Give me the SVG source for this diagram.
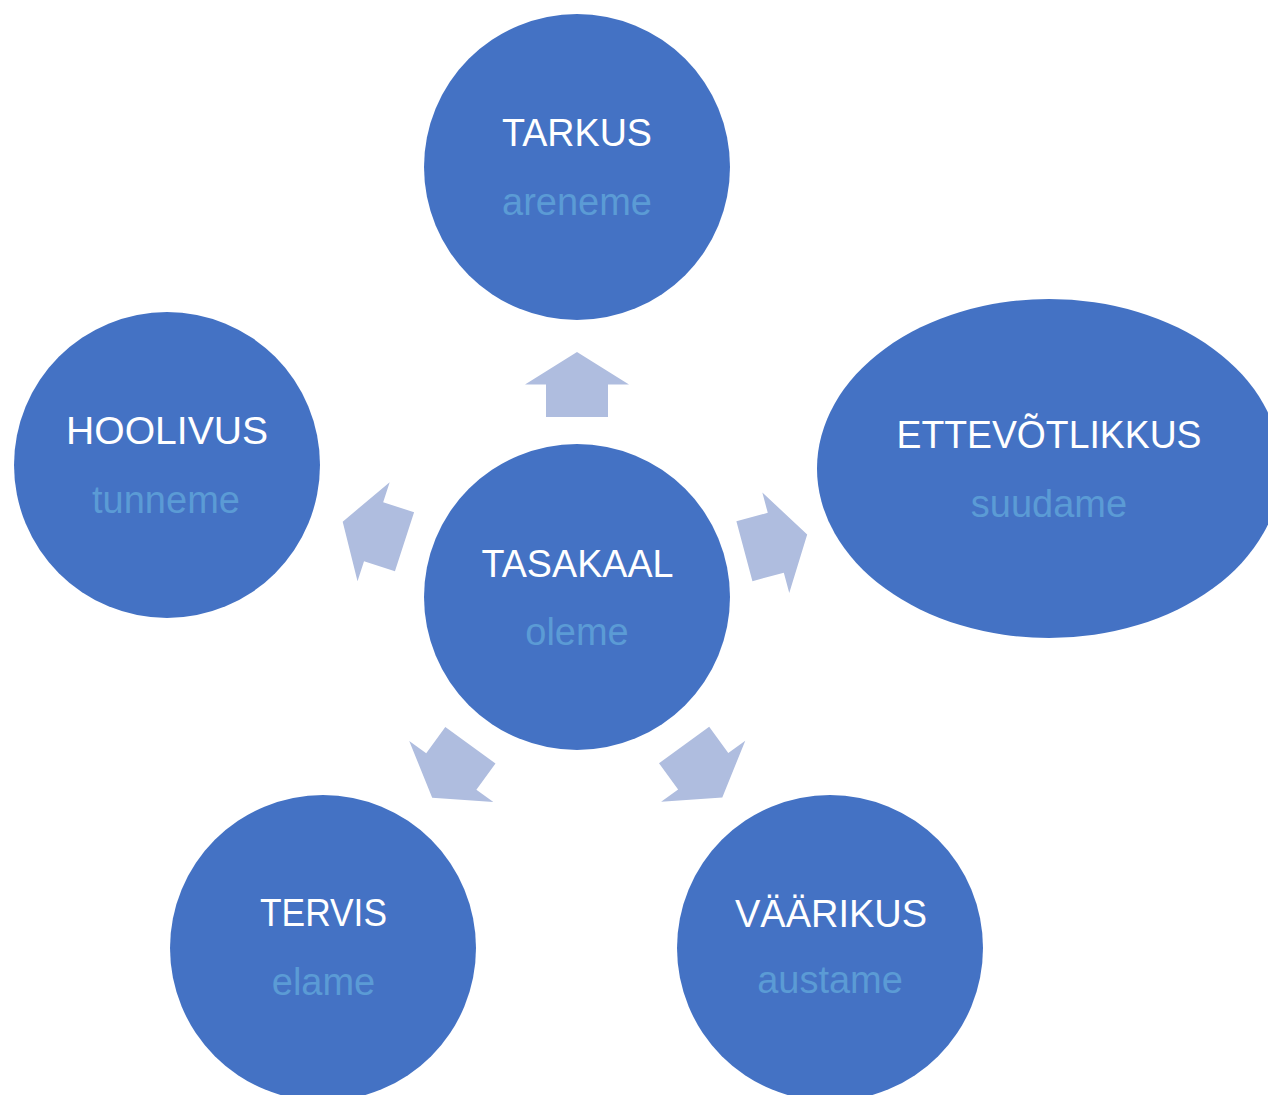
<svg xmlns="http://www.w3.org/2000/svg" width="1268" height="1095" viewBox="0 0 1268 1095">
<defs>
<style>
.node{fill:#4472C4}
.t{font-family:"Liberation Sans",Arial,sans-serif;font-size:38px;fill:#FFFFFF;text-anchor:middle}
.s{font-family:"Liberation Sans",Arial,sans-serif;font-size:38px;fill:#5B9BD5;text-anchor:middle}
.arr{fill:#AFBDDF}
</style>
<polygon id="arrow" points="0,-32.5 52,0 31,0 31,32.5 -31,32.5 -31,0 -52,0"/>
</defs>
<rect width="1268" height="1095" fill="#FFFFFF"/>
<g id="connectors">
<use href="#arrow" class="arr" transform="translate(577,384.5)"/>
<use href="#arrow" class="arr" transform="translate(373.6,531.7) rotate(-72)"/>
<use href="#arrow" class="arr" transform="translate(775.8,542.8) rotate(75)"/>
<use href="#arrow" class="arr" transform="translate(451.3,771.5) rotate(-144)"/>
<use href="#arrow" class="arr" transform="translate(703.2,771.2) rotate(144)"/>
</g>
<g id="tarkus">
<circle class="node" cx="577" cy="167" r="153"/>
<text class="t" x="577" y="146" textLength="150" lengthAdjust="spacingAndGlyphs">TARKUS</text>
<text class="s" x="577" y="215">areneme</text>
</g>
<g id="tasakaal">
<circle class="node" cx="577" cy="597" r="153"/>
<text class="t" x="577.5" y="577" textLength="192" lengthAdjust="spacingAndGlyphs">TASAKAAL</text>
<text class="s" x="577" y="645">oleme</text>
</g>
<g id="hoolivus">
<circle class="node" cx="167" cy="465" r="153"/>
<text class="t" x="167" y="444" textLength="202" lengthAdjust="spacingAndGlyphs">HOOLIVUS</text>
<text class="s" x="166" y="513">tunneme</text>
</g>
<g id="ettevotlikkus">
<ellipse class="node" cx="1049" cy="468.5" rx="232" ry="169.5"/>
<text class="t" x="1049" y="448" textLength="305" lengthAdjust="spacingAndGlyphs">ETTEVÕTLIKKUS</text>
<text class="s" x="1049" y="517">suudame</text>
</g>
<g id="tervis">
<circle class="node" cx="323" cy="948" r="153"/>
<text class="t" x="323.5" y="926" textLength="127" lengthAdjust="spacingAndGlyphs">TERVIS</text>
<text class="s" x="323.5" y="995">elame</text>
</g>
<g id="vaarikus">
<circle class="node" cx="830" cy="948" r="153"/>
<text class="t" x="831" y="927" textLength="192" lengthAdjust="spacingAndGlyphs">VÄÄRIKUS</text>
<text class="s" x="830" y="993">austame</text>
</g>
</svg>
